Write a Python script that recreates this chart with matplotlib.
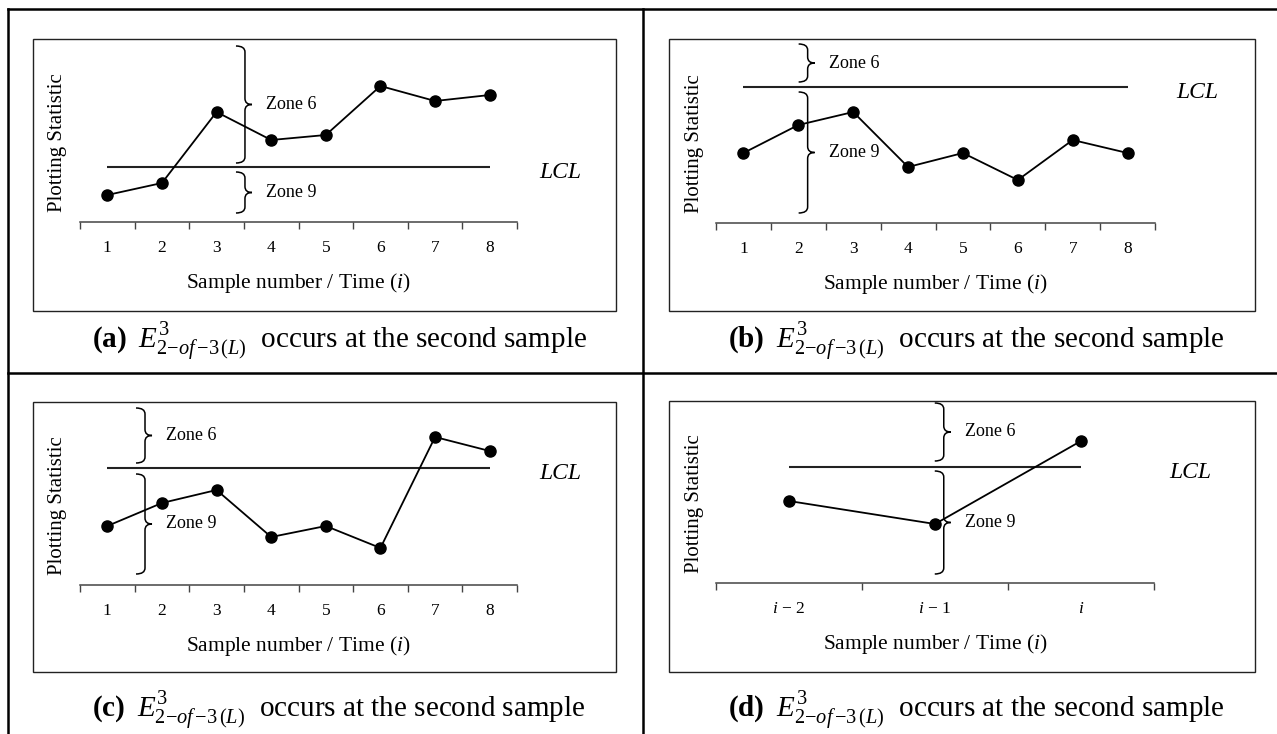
#!/usr/bin/env python3
import matplotlib
import matplotlib.pyplot as plt
from matplotlib.patches import PathPatch, Rectangle
from matplotlib.path import Path
from matplotlib.lines import Line2D

matplotlib.use("Agg")

plt.rcParams["font.family"] = ["Liberation Serif", "DejaVu Serif"]
plt.rcParams["mathtext.fontset"] = "custom"
plt.rcParams["mathtext.rm"] = "Liberation Serif"
plt.rcParams["mathtext.it"] = "Liberation Serif:italic"
plt.rcParams["mathtext.bf"] = "Liberation Serif:bold"

# ---- values (plotting statistic, arbitrary units) ----
panel_letters = ["a", "b", "c", "d"]

samples_8 = [1, 2, 3, 4, 5, 6, 7, 8]
labels_8 = ["1", "2", "3", "4", "5", "6", "7", "8"]
samples_3 = [1, 2, 3]
labels_3 = ["$i$ \u2212 2", "$i$ \u2212 1", "$i$"]

stat_a = [2.7, 3.9, 11.0, 8.2, 8.7, 13.6, 12.1, 12.7]
stat_b = [7.0, 9.8, 11.1, 5.6, 7.0, 4.3, 8.3, 7.0]
stat_c = [5.9, 8.2, 9.5, 4.8, 5.9, 3.7, 14.8, 13.4]
stat_d = [8.2, 5.9, 14.2]

lcl_values = [5.5, 13.6, 11.7, 11.6]

# zone brace extents (low, high) and where the brace sits on the x axis
zone6_spans = [(5.9, 17.6), (14.1, 17.9), (12.2, 17.7), (12.2, 18.0)]
zone9_spans = [(0.9, 5.0), (1.0, 13.1), (1.1, 11.1), (0.9, 11.2)]
brace_x = [3.52, 2.17, 1.69, 2.06]

# ---- layout in pixels of the 1277x734 canvas ----
W, H = 1277, 734
# frame box (x0, y0, x1, y1) and plot area (left, right, axis line y)
frame_boxes = [(33, 39, 616, 311), (669, 39, 1255, 311),
               (33, 402, 616, 672), (669, 401, 1255, 672)]
plot_areas = [(80, 517, 222), (716, 1155, 223), (80, 517, 585), (716, 1154, 583)]
caption_pos = [(339, 348), (976, 348), (339, 717), (976, 717)]
lcl_label_dx = [43, 42, 43, 36]
PX_PER_UNIT_Y = 10.0
Y_MAX = 18.0


def fx(px):
    return px / W


def fy(py):
    return 1 - py / H


def draw_brace(ax, x, y_lo, y_hi, color="black"):
    """Right-facing curly brace, built in pixel space and mapped back to data."""
    to_px = ax.transData.transform
    sx, yb = to_px((x, y_lo))
    _, yt = to_px((x, y_hi))
    ym = (yt + yb) / 2
    left, tip, r = 9, 7, 6
    verts = [
        (sx - left, yt), (sx, yt), (sx, yt - r),
        (sx, ym + r),
        (sx, ym), (sx + tip, ym),
        (sx, ym), (sx, ym - r),
        (sx, yb + r),
        (sx, yb), (sx - left, yb),
    ]
    codes = [
        Path.MOVETO, Path.CURVE3, Path.CURVE3,
        Path.LINETO,
        Path.CURVE3, Path.CURVE3,
        Path.CURVE3, Path.CURVE3,
        Path.LINETO,
        Path.CURVE3, Path.CURVE3,
    ]
    data_verts = ax.transData.inverted().transform(verts)
    ax.add_patch(PathPatch(Path(data_verts, codes), fill=False, edgecolor=color,
                           linewidth=1.1, clip_on=False, zorder=2))
    # zone label sits 21 px right of the brace stem
    return ax.transData.inverted().transform((sx + 21, ym))


fig = plt.figure(figsize=(W / 100, H / 100), dpi=100)

# table grid lines
grid_kw = dict(color="black", linewidth=1.8, transform=fig.transFigure)
fig.add_artist(Line2D([fx(8), fx(8)], [fy(9), fy(H + 5)], **grid_kw))
fig.add_artist(Line2D([fx(8), fx(W + 5)], [fy(9), fy(9)], **grid_kw))
fig.add_artist(Line2D([fx(643), fx(643)], [fy(9), fy(H + 5)], **grid_kw))
fig.add_artist(Line2D([fx(8), fx(W + 5)], [fy(373), fy(373)], **grid_kw))

all_stats = [stat_a, stat_b, stat_c, stat_d]
for k, letter in enumerate(panel_letters):
    x0, y0, x1, y1 = frame_boxes[k]
    fig.add_artist(Rectangle((fx(x0), fy(y1)), fx(x1 - x0), (y1 - y0) / H,
                             transform=fig.transFigure, fill=False,
                             edgecolor="#222222", linewidth=1.0))

    left, right, base = plot_areas[k]
    height = Y_MAX * PX_PER_UNIT_Y
    ax = fig.add_axes([fx(left), fy(base), fx(right - left), height / H])
    ax.patch.set_visible(False)

    if letter == "d":
        xs, xlabels = samples_3, labels_3
    else:
        xs, xlabels = samples_8, labels_8
    ys = all_stats[k]

    ax.set_xlim(xs[0] - 0.5, xs[-1] + 0.5)
    ax.set_ylim(0, Y_MAX)

    for side in ["top", "right", "left"]:
        ax.spines[side].set_visible(False)
    ax.spines["bottom"].set_color("#444444")
    ax.spines["bottom"].set_linewidth(1.1)
    ax.set_yticks([])
    ax.set_xticks([x - 0.5 for x in xs] + [xs[-1] + 0.5])
    ax.set_xticklabels([])
    ax.set_xticks(xs, minor=True)
    ax.set_xticklabels(xlabels, minor=True, fontsize=12.5)
    ax.tick_params(axis="x", which="major", direction="out", length=5,
                   width=1.0, color="#444444")
    ax.tick_params(axis="x", which="minor", length=0, pad=13)

    # LCL line and its label
    lcl = lcl_values[k]
    ax.hlines(lcl, xs[0], xs[-1], color="#222222", linewidth=1.5, zorder=2)
    ax.annotate("LCL", xy=(1, lcl), xycoords=("axes fraction", "data"),
                xytext=(lcl_label_dx[k], -6), textcoords="offset pixels",
                ha="center", va="center", fontsize=17, style="italic",
                annotation_clip=False)

    # plotted statistic
    ax.plot(xs, ys, color="black", linewidth=1.3, marker="o", markersize=8,
            zorder=3, clip_on=False)

    # zone braces with labels
    for span, name in [(zone6_spans[k], "Zone 6"), (zone9_spans[k], "Zone 9")]:
        tx, ty = draw_brace(ax, brace_x[k], span[0], span[1])
        ax.text(tx, ty, name, ha="left", va="center", fontsize=13, zorder=4,
                bbox=dict(facecolor="white", edgecolor="none", pad=1.5),
                clip_on=False)

    # axis titles
    fig.text(fx(left - 22), fy(base - 79), "Plotting Statistic", rotation=90,
             ha="center", va="center", fontsize=15)
    fig.text(fx((left + right) / 2), fy(base + 61), "Sample number / Time ($i$)",
             ha="center", va="center", fontsize=15.5)

    # caption under the panel
    cx, cy = caption_pos[k]
    caption = (r"$\mathbf{(" + letter + r")}\ \;E^{3}_{2{-}of\,{-}3\,(L)}$"
               + "  occurs at the second sample")
    fig.text(fx(cx), fy(cy), caption, ha="center", va="baseline", fontsize=21)

plt.savefig("out.png", dpi=100)
plt.close()
